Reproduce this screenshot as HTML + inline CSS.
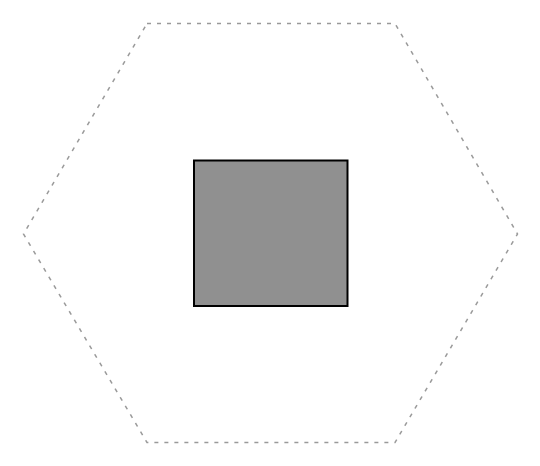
<!DOCTYPE html>
<html><head><meta charset="utf-8"><style>html,body{margin:0;padding:0;background:#fff;}svg{display:block;}</style></head>
<body>
<svg width="540" height="466" viewBox="0 0 540 466">
<polygon points="147,23.5 395,23.5 517.5,234 395,442.5 147,442.5 23.5,234" fill="none" stroke="#999" stroke-width="1.5" stroke-dasharray="4,6"/>
<rect x="194" y="160.5" width="153.5" height="145.5" fill="#909090" stroke="#000" stroke-width="2"/>
</svg>
</body></html>
